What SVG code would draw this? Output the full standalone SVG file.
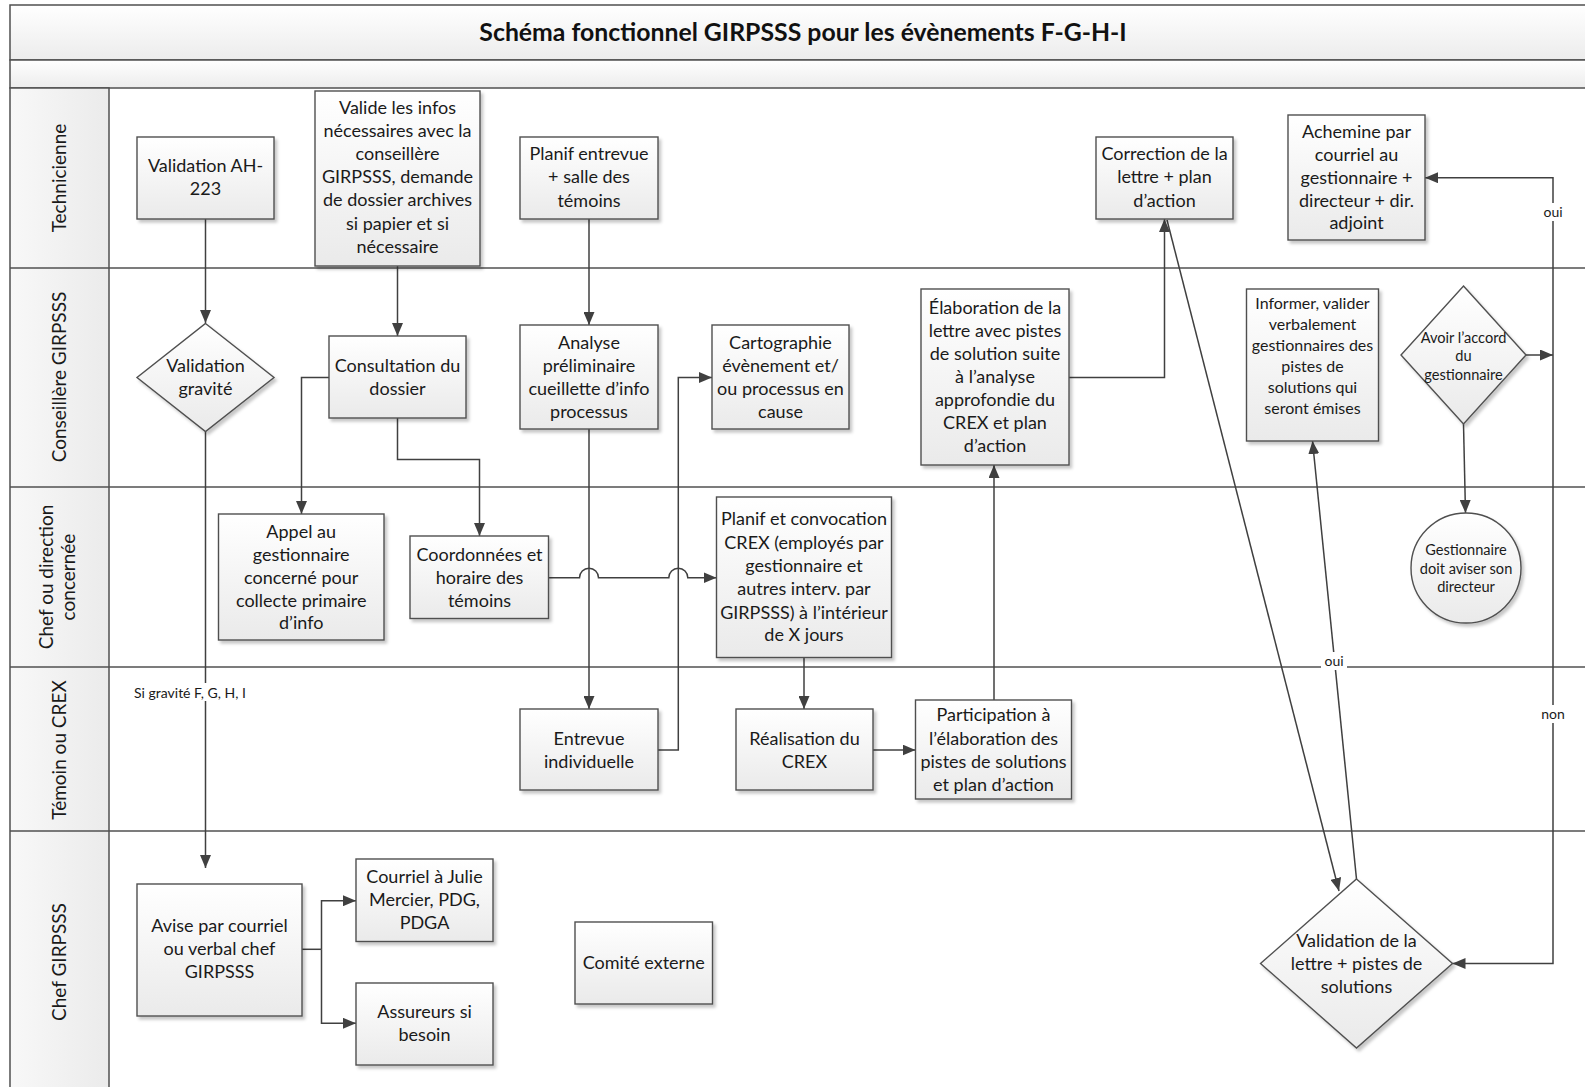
<svg xmlns="http://www.w3.org/2000/svg" width="1585" height="1087" viewBox="0 0 1585 1087">
  <defs>
    <linearGradient id="nodeFill" x1="0" y1="0" x2="0" y2="1">
      <stop offset="0" stop-color="#ffffff"/>
      <stop offset="1" stop-color="#eaeaea"/>
    </linearGradient>
    <linearGradient id="bandFill" x1="0" y1="0" x2="0" y2="1">
      <stop offset="0" stop-color="#ffffff"/>
      <stop offset="1" stop-color="#ececec"/>
    </linearGradient>
    <linearGradient id="headFill" x1="0" y1="0" x2="1" y2="0">
      <stop offset="0" stop-color="#f8f8f8"/>
      <stop offset="1" stop-color="#ebebeb"/>
    </linearGradient>
    <filter id="shadow" x="-10%" y="-10%" width="130%" height="130%">
      <feDropShadow dx="2.5" dy="3" stdDeviation="1.5" flood-color="#000000" flood-opacity="0.22"/>
    </filter>
    <marker id="arrow" viewBox="0 0 13 11" refX="13" refY="5.5" markerWidth="13" markerHeight="11" markerUnits="userSpaceOnUse" orient="auto">
      <path d="M0,0 L13,5.5 L0,11 z" fill="#404040"/>
    </marker>
  </defs>
  <style>
    .lane { stroke: #505050; stroke-width: 1.5; fill: none; }
    .band { stroke: #505050; stroke-width: 1.5; fill: url(#bandFill); }
    .head { stroke: #505050; stroke-width: 1.5; fill: url(#headFill); }
    .node { fill: url(#nodeFill); stroke: #505050; stroke-width: 1.4; filter: url(#shadow); }
    .t { font-family: Lato, "Liberation Sans", sans-serif; font-size: 18px; fill: #1a1a1a; text-anchor: middle; }
    .ts { font-family: Lato, "Liberation Sans", sans-serif; font-size: 16px; fill: #1a1a1a; text-anchor: middle; }
    .tx { font-family: Lato, "Liberation Sans", sans-serif; font-size: 14.6px; fill: #1a1a1a; text-anchor: middle; }
    .lbl { font-family: Lato, "Liberation Sans", sans-serif; font-size: 14px; fill: #1a1a1a; }
    .lanet { font-family: Lato, "Liberation Sans", sans-serif; font-size: 19px; fill: #1a1a1a; text-anchor: middle; }
    .title { font-family: Lato, "Liberation Sans", sans-serif; font-size: 24.8px; font-weight: bold; fill: #111111; text-anchor: middle; }
    .conn { fill: none; stroke: #404040; stroke-width: 1.5; }
    .arr { marker-end: url(#arrow); }
  </style>

  <rect width="1585" height="1087" fill="#ffffff"/>

  <!-- Pool frame: title band, blank band, lane header column -->
  <g id="pool">
    <rect class="band" x="10" y="5" width="1590" height="55"/>
    <rect class="band" x="10" y="60" width="1590" height="28"/>
    <rect class="head" x="10" y="88" width="99" height="1010"/>
    <line class="lane" x1="10" y1="268" x2="1585" y2="268"/>
    <line class="lane" x1="10" y1="487" x2="1585" y2="487"/>
    <line class="lane" x1="10" y1="667" x2="1585" y2="667"/>
    <line class="lane" x1="10" y1="831" x2="1585" y2="831"/>
    <text class="title" x="803" y="41">Schéma fonctionnel GIRPSSS pour les évènements F-G-H-I</text>
  </g>

  <!-- Lane titles -->
  <g id="lane-labels">
    <text class="lanet" transform="translate(66,178) rotate(-90)">Technicienne</text>
    <text class="lanet" transform="translate(66,377) rotate(-90)">Conseillère GIRPSSS</text>
    <text class="lanet" transform="translate(53,577) rotate(-90)">Chef ou direction</text>
    <text class="lanet" transform="translate(75,577) rotate(-90)">concernée</text>
    <text class="lanet" transform="translate(66,750) rotate(-90)">Témoin ou CREX</text>
    <text class="lanet" transform="translate(66,962) rotate(-90)">Chef GIRPSSS</text>
  </g>

  <!-- Connectors -->
  <g id="connectors">
    <path class="conn arr" d="M205.5,219 V323"/>
    <path class="conn arr" d="M397.5,266 V336"/>
    <path class="conn arr" d="M589,219 V325"/>
    <path class="conn arr" d="M205.5,431.5 V868"/>
    <path class="conn arr" d="M329,377.5 H301.5 V514"/>
    <path class="conn arr" d="M397.5,418 V459.5 H479.5 V536"/>
    <path class="conn arr" d="M548.5,577.7 H579.5 A9.5,9.5 0 0 1 598.5,577.7 H668.8 A9.5,9.5 0 0 1 687.8,577.7 H716.5"/>
    <path class="conn arr" d="M589,429 V709"/>
    <path class="conn arr" d="M658,750 H678.3 V377.5 H712"/>
    <path class="conn arr" d="M804,657.5 V709"/>
    <path class="conn arr" d="M873,750 H915.5"/>
    <path class="conn arr" d="M994,700 V465"/>
    <path class="conn arr" d="M1069,377.5 H1164.5 V219"/>
    <path class="conn arr" d="M1167,220 L1339,891"/>
    <path class="conn arr" d="M1356.5,879 L1312.5,441"/>
    <path class="conn arr" d="M1526,355 H1553"/>
    <path class="conn arr" d="M1553,355 V177.7 H1425"/>
    <path class="conn arr" d="M1553,355 V963.5 H1452.5"/>
    <path class="conn arr" d="M1463.5,424 L1465.5,513"/>
    <path class="conn" d="M302,949.3 H321.5"/>
    <path class="conn arr" d="M321.5,949.3 V900.7 H356"/>
    <path class="conn arr" d="M321.5,949.3 V1023.3 H356"/>
    <!-- connector labels on a white ground -->
    <rect x="133" y="683" width="120" height="18" fill="#ffffff"/>
    <text class="lbl" x="134" y="697.5">Si gravité F, G, H, I</text>
    <rect x="1540" y="203" width="26" height="18" fill="#ffffff"/>
    <text class="lbl" x="1553" y="216.5" text-anchor="middle">oui</text>
    <rect x="1537" y="705" width="32" height="18" fill="#ffffff"/>
    <text class="lbl" x="1553" y="718.5" text-anchor="middle">non</text>
    <rect x="1321" y="652" width="26" height="18" fill="#ffffff"/>
    <text class="lbl" x="1334" y="665.5" text-anchor="middle">oui</text>
  </g>

  <!-- Technicienne -->
  <g id="validation-ah">
    <rect class="node" x="137" y="137" width="137" height="82"/>
    <text class="t"><tspan x="205.5" y="172">Validation AH-</tspan><tspan x="205.5" y="195">223</tspan></text>
  </g>
  <g id="valide-infos">
    <rect class="node" x="315" y="91" width="165" height="175"/>
    <text class="t"><tspan x="397.5" y="113.5">Valide les infos</tspan><tspan x="397.5" y="136.7">nécessaires avec la</tspan><tspan x="397.5" y="159.9">conseillère</tspan><tspan x="397.5" y="183.1">GIRPSSS, demande</tspan><tspan x="397.5" y="206.3">de dossier archives</tspan><tspan x="397.5" y="229.5">si papier et si</tspan><tspan x="397.5" y="252.7">nécessaire</tspan></text>
  </g>
  <g id="planif-entrevue">
    <rect class="node" x="520" y="137" width="138" height="82"/>
    <text class="t"><tspan x="589" y="159.5">Planif entrevue</tspan><tspan x="589" y="183">+ salle des</tspan><tspan x="589" y="206.5">témoins</tspan></text>
  </g>
  <g id="correction">
    <rect class="node" x="1096" y="137" width="137" height="82"/>
    <text class="t"><tspan x="1164.5" y="159.5">Correction de la</tspan><tspan x="1164.5" y="183">lettre + plan</tspan><tspan x="1164.5" y="206.5">d’action</tspan></text>
  </g>
  <g id="achemine">
    <rect class="node" x="1288" y="115" width="137" height="125"/>
    <text class="t"><tspan x="1356.5" y="137.5">Achemine par</tspan><tspan x="1356.5" y="160.5">courriel au</tspan><tspan x="1356.5" y="183.5">gestionnaire +</tspan><tspan x="1356.5" y="206.5">directeur + dir.</tspan><tspan x="1356.5" y="229">adjoint</tspan></text>
  </g>

  <!-- Conseillère GIRPSSS -->
  <g id="validation-gravite">
    <polygon class="node" points="205.5,323.5 274,377.5 205.5,431.5 137,377.5"/>
    <text class="t"><tspan x="205.5" y="371.5">Validation</tspan><tspan x="205.5" y="395">gravité</tspan></text>
  </g>
  <g id="consultation">
    <rect class="node" x="329" y="336" width="137" height="82"/>
    <text class="t"><tspan x="397.5" y="371.5">Consultation du</tspan><tspan x="397.5" y="395">dossier</tspan></text>
  </g>
  <g id="analyse">
    <rect class="node" x="520" y="325" width="138" height="104"/>
    <text class="t"><tspan x="589" y="348.5">Analyse</tspan><tspan x="589" y="371.5">préliminaire</tspan><tspan x="589" y="395">cueillette d’info</tspan><tspan x="589" y="418">processus</tspan></text>
  </g>
  <g id="cartographie">
    <rect class="node" x="712" y="325" width="137" height="104"/>
    <text class="t"><tspan x="780.5" y="348.5">Cartographie</tspan><tspan x="780.5" y="371.5">évènement et/</tspan><tspan x="780.5" y="395">ou processus en</tspan><tspan x="780.5" y="418">cause</tspan></text>
  </g>
  <g id="elaboration">
    <rect class="node" x="921" y="289" width="148" height="176"/>
    <text class="t"><tspan x="995" y="314">Élaboration de la</tspan><tspan x="995" y="337">lettre avec pistes</tspan><tspan x="995" y="360">de solution suite</tspan><tspan x="995" y="383">à l’analyse</tspan><tspan x="995" y="406">approfondie du</tspan><tspan x="995" y="429">CREX et plan</tspan><tspan x="995" y="452">d’action</tspan></text>
  </g>
  <g id="informer">
    <rect class="node" x="1246.5" y="289" width="132" height="152"/>
    <text class="ts"><tspan x="1312.5" y="308.5">Informer,  valider</tspan><tspan x="1312.5" y="330">verbalement</tspan><tspan x="1312.5" y="351">gestionnaires des</tspan><tspan x="1312.5" y="372">pistes de</tspan><tspan x="1312.5" y="393">solutions qui</tspan><tspan x="1312.5" y="413.5">seront émises</tspan></text>
  </g>
  <g id="avoir-accord">
    <polygon class="node" points="1463.5,286 1526,355 1463.5,424 1401,355"/>
    <text class="tx"><tspan x="1463.5" y="342.5">Avoir l’accord</tspan><tspan x="1463.5" y="361">du</tspan><tspan x="1463.5" y="380">gestionnaire</tspan></text>
  </g>

  <!-- Chef ou direction concernée -->
  <g id="appel">
    <rect class="node" x="218.5" y="514" width="165.5" height="126"/>
    <text class="t"><tspan x="301.2" y="537.5">Appel au</tspan><tspan x="301.2" y="560.5">gestionnaire</tspan><tspan x="301.2" y="583.5">concerné pour</tspan><tspan x="301.2" y="606.5">collecte primaire</tspan><tspan x="301.2" y="629">d’info</tspan></text>
  </g>
  <g id="coordonnees">
    <rect class="node" x="410" y="536" width="138.5" height="82.5"/>
    <text class="t"><tspan x="479.5" y="560.5">Coordonnées et</tspan><tspan x="479.5" y="583.5">horaire des</tspan><tspan x="479.5" y="606.5">témoins</tspan></text>
  </g>
  <g id="planif-crex">
    <rect class="node" x="716.5" y="497" width="175" height="160.5"/>
    <text class="t"><tspan x="804" y="525">Planif et convocation</tspan><tspan x="804" y="548.5">CREX (employés par</tspan><tspan x="804" y="571.8">gestionnaire et</tspan><tspan x="804" y="595.1">autres interv. par</tspan><tspan x="804" y="618.5">GIRPSSS) à l’intérieur</tspan><tspan x="804" y="641">de X jours</tspan></text>
  </g>
  <g id="gestionnaire-aviser">
    <circle class="node" cx="1466" cy="568" r="55"/>
    <text class="tx"><tspan x="1466" y="554.5">Gestionnaire</tspan><tspan x="1466" y="573.5">doit aviser son</tspan><tspan x="1466" y="592">directeur</tspan></text>
  </g>

  <!-- Témoin ou CREX -->
  <g id="entrevue">
    <rect class="node" x="520" y="709" width="138" height="81"/>
    <text class="t"><tspan x="589" y="744.5">Entrevue</tspan><tspan x="589" y="767.5">individuelle</tspan></text>
  </g>
  <g id="realisation">
    <rect class="node" x="736" y="709" width="137" height="81"/>
    <text class="t"><tspan x="804.5" y="744.5">Réalisation du</tspan><tspan x="804.5" y="767.5">CREX</tspan></text>
  </g>
  <g id="participation">
    <rect class="node" x="915.5" y="700" width="156" height="99"/>
    <text class="t"><tspan x="993.5" y="721">Participation à</tspan><tspan x="993.5" y="744.5">l’élaboration des</tspan><tspan x="993.5" y="767.5">pistes de solutions</tspan><tspan x="993.5" y="790.5">et plan d’action</tspan></text>
  </g>

  <!-- Chef GIRPSSS -->
  <g id="avise">
    <rect class="node" x="137" y="884" width="165" height="132"/>
    <text class="t"><tspan x="219.5" y="931.5">Avise par courriel</tspan><tspan x="219.5" y="955">ou verbal chef</tspan><tspan x="219.5" y="978">GIRPSSS</tspan></text>
  </g>
  <g id="courriel">
    <rect class="node" x="356" y="859" width="137" height="82.5"/>
    <text class="t"><tspan x="424.5" y="882.5">Courriel à Julie</tspan><tspan x="424.5" y="905.5">Mercier, PDG,</tspan><tspan x="424.5" y="929">PDGA</tspan></text>
  </g>
  <g id="assureurs">
    <rect class="node" x="356" y="983" width="137" height="82"/>
    <text class="t"><tspan x="424.5" y="1018">Assureurs si</tspan><tspan x="424.5" y="1040.5">besoin</tspan></text>
  </g>
  <g id="comite-externe">
    <rect class="node" x="575" y="922" width="137.5" height="82"/>
    <text class="t"><tspan x="643.7" y="968.5">Comité externe</tspan></text>
  </g>
  <g id="validation-lettre">
    <polygon class="node" points="1356.5,879 1452.5,963.5 1356.5,1048 1260.5,963.5"/>
    <text class="t"><tspan x="1356.5" y="947">Validation de la</tspan><tspan x="1356.5" y="969.5">lettre + pistes de</tspan><tspan x="1356.5" y="992.5">solutions</tspan></text>
  </g>
</svg>
